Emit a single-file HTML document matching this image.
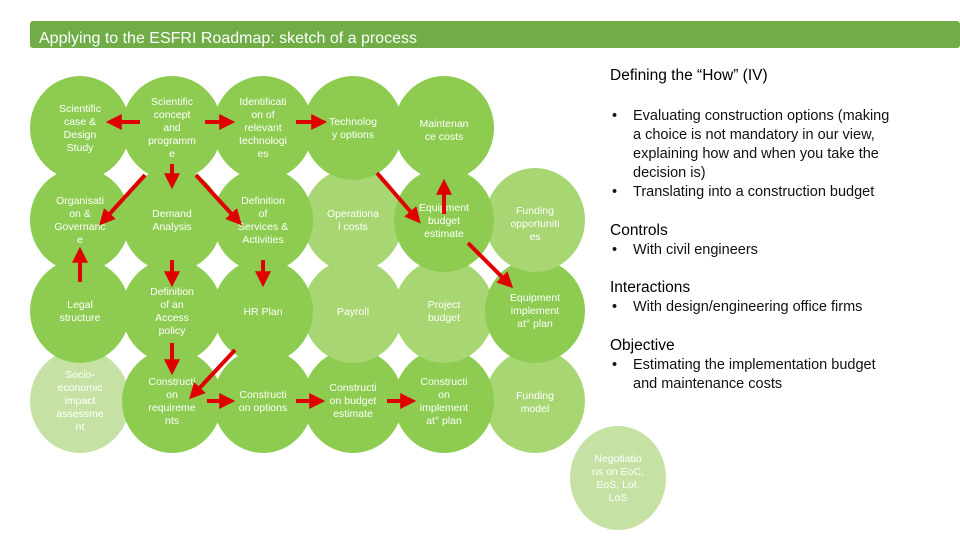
<!DOCTYPE html>
<html><head><meta charset="utf-8"><style>
body{margin:0;background:#fff;}
svg text{font-family:"Liberation Sans",sans-serif;}
.c{fill:#fff;font-size:10.5px;text-anchor:middle;}
.r{font-size:14.5px;fill:#111;}
.h{font-size:15.5px;fill:#000;}
</style></head><body>
<svg width="960" height="540" viewBox="0 0 960 540" xmlns="http://www.w3.org/2000/svg">
<defs><marker id="a" markerWidth="4" markerHeight="4" refX="2.2" refY="2" orient="auto" markerUnits="strokeWidth"><path d="M0,0 L4,2 L0,4 Z" fill="#E00000"/></marker></defs>
<rect x="30" y="21" width="930" height="27" rx="3" fill="#70AD47"/>
<text x="39" y="43" fill="#fff" style="font-size:16px">Applying to the ESFRI Roadmap: sketch of a process</text>
<g>
<!-- row 4 -->
<ellipse cx="80" cy="401" rx="50" ry="52" fill="#C5E2A4"/>
<ellipse cx="535" cy="401" rx="50" ry="52" fill="#A8D672"/>
<ellipse cx="172" cy="401" rx="50" ry="52" fill="#8DCC50"/>
<ellipse cx="263" cy="401" rx="50" ry="52" fill="#8DCC50"/>
<ellipse cx="353" cy="401" rx="50" ry="52" fill="#8DCC50"/>
<ellipse cx="444" cy="401" rx="50" ry="52" fill="#8DCC50"/>
<!-- row 3 -->
<ellipse cx="353" cy="311" rx="50" ry="52" fill="#A8D672"/>
<ellipse cx="444" cy="311" rx="50" ry="52" fill="#A8D672"/>
<ellipse cx="80" cy="311" rx="50" ry="52" fill="#8DCC50"/>
<ellipse cx="172" cy="311" rx="50" ry="52" fill="#8DCC50"/>
<ellipse cx="263" cy="311" rx="50" ry="52" fill="#8DCC50"/>
<ellipse cx="535" cy="311" rx="50" ry="52" fill="#8DCC50"/>
<!-- row 2 -->
<ellipse cx="353" cy="220" rx="50" ry="52" fill="#A8D672"/>
<ellipse cx="535" cy="220" rx="50" ry="52" fill="#A8D672"/>
<ellipse cx="80" cy="220" rx="50" ry="52" fill="#8DCC50"/>
<ellipse cx="172" cy="220" rx="50" ry="52" fill="#8DCC50"/>
<ellipse cx="263" cy="220" rx="50" ry="52" fill="#8DCC50"/>
<ellipse cx="444" cy="220" rx="50" ry="52" fill="#8DCC50"/>
<!-- row 1 -->
<ellipse cx="80" cy="128" rx="50" ry="52" fill="#8DCC50"/>
<ellipse cx="172" cy="128" rx="50" ry="52" fill="#8DCC50"/>
<ellipse cx="263" cy="128" rx="50" ry="52" fill="#8DCC50"/>
<ellipse cx="353" cy="128" rx="50" ry="52" fill="#8DCC50"/>
<ellipse cx="444" cy="128" rx="50" ry="52" fill="#8DCC50"/>
<ellipse cx="618" cy="478" rx="48" ry="52" fill="#C5E2A4"/>
</g>
<g class="c">
<text x="80" y="112">Scientific<tspan x="80" dy="13">case &amp;</tspan><tspan x="80" dy="13">Design</tspan><tspan x="80" dy="13">Study</tspan></text>
<text x="172" y="105">Scientific<tspan x="172" dy="13">concept</tspan><tspan x="172" dy="13">and</tspan><tspan x="172" dy="13">programm</tspan><tspan x="172" dy="13">e</tspan></text>
<text x="263" y="105">Identificati<tspan x="263" dy="13">on of</tspan><tspan x="263" dy="13">relevant</tspan><tspan x="263" dy="13">technologi</tspan><tspan x="263" dy="13">es</tspan></text>
<text x="353" y="125">Technolog<tspan x="353" dy="13">y options</tspan></text>
<text x="444" y="127">Maintenan<tspan x="444" dy="13">ce costs</tspan></text>
<text x="80" y="204">Organisati<tspan x="80" dy="13">on &amp;</tspan><tspan x="80" dy="13">Governanc</tspan><tspan x="80" dy="13">e</tspan></text>
<text x="172" y="217">Demand<tspan x="172" dy="13">Analysis</tspan></text>
<text x="263" y="204">Definition<tspan x="263" dy="13">of</tspan><tspan x="263" dy="13">Services &amp;</tspan><tspan x="263" dy="13">Activities</tspan></text>
<text x="353" y="217">Operationa<tspan x="353" dy="13">l costs</tspan></text>
<text x="444" y="211">Equipment<tspan x="444" dy="13">budget</tspan><tspan x="444" dy="13">estimate</tspan></text>
<text x="535" y="214">Funding<tspan x="535" dy="13">opportuniti</tspan><tspan x="535" dy="13">es</tspan></text>
<text x="80" y="308">Legal<tspan x="80" dy="13">structure</tspan></text>
<text x="172" y="295">Definition<tspan x="172" dy="13">of an</tspan><tspan x="172" dy="13">Access</tspan><tspan x="172" dy="13">policy</tspan></text>
<text x="263" y="315">HR Plan</text>
<text x="353" y="315">Payroll</text>
<text x="444" y="308">Project<tspan x="444" dy="13">budget</tspan></text>
<text x="535" y="301">Equipment<tspan x="535" dy="13">implement</tspan><tspan x="535" dy="13">at° plan</tspan></text>
<text x="80" y="378">Socio-<tspan x="80" dy="13">economic</tspan><tspan x="80" dy="13">impact</tspan><tspan x="80" dy="13">assessme</tspan><tspan x="80" dy="13">nt</tspan></text>
<text x="172" y="385">Constructi<tspan x="172" dy="13">on</tspan><tspan x="172" dy="13">requireme</tspan><tspan x="172" dy="13">nts</tspan></text>
<text x="263" y="398">Constructi<tspan x="263" dy="13">on options</tspan></text>
<text x="353" y="391">Constructi<tspan x="353" dy="13">on budget</tspan><tspan x="353" dy="13">estimate</tspan></text>
<text x="444" y="385">Constructi<tspan x="444" dy="13">on</tspan><tspan x="444" dy="13">implement</tspan><tspan x="444" dy="13">at° plan</tspan></text>
<text x="535" y="399">Funding<tspan x="535" dy="13">model</tspan></text>
<text x="618" y="462">Negotiatio<tspan x="618" dy="13">ns on EoC,</tspan><tspan x="618" dy="13">EoS, LoI,</tspan><tspan x="618" dy="13">LoS</tspan></text>
</g>
<g stroke="#E00000" stroke-width="4" fill="none" marker-end="url(#a)">
<line x1="140" y1="122" x2="113" y2="122"/>
<line x1="205" y1="122" x2="228" y2="122"/>
<line x1="296" y1="122" x2="320" y2="122"/>
<line x1="172" y1="164" x2="172" y2="182"/>
<line x1="145" y1="175" x2="104" y2="220"/>
<line x1="196" y1="175" x2="237" y2="220"/>
<line x1="377" y1="173" x2="416" y2="218"/>
<line x1="444" y1="214" x2="444" y2="186"/>
<line x1="80" y1="282" x2="80" y2="254"/>
<line x1="172" y1="260" x2="172" y2="280"/>
<line x1="263" y1="260" x2="263" y2="280"/>
<line x1="468" y1="243" x2="508" y2="283"/>
<line x1="172" y1="343" x2="172" y2="368"/>
<line x1="235" y1="350" x2="194" y2="394"/>
<line x1="207" y1="422" x2="228" y2="422" transform="translate(0,-21)"/>
<line x1="296" y1="401" x2="318" y2="401"/>
<line x1="387" y1="401" x2="409" y2="401"/>
</g>
<text class="h" x="610" y="80">Defining the “How” (IV)</text>
<g class="r">
<text x="612" y="120">•</text><text x="633" y="120">Evaluating construction options (making</text>
<text x="633" y="139">a choice is not mandatory in our view,</text>
<text x="633" y="158">explaining how and when you take the</text>
<text x="633" y="177">decision is)</text>
<text x="612" y="196">•</text><text x="633" y="196">Translating into a construction budget</text>
<text class="h" x="610" y="235">Controls</text>
<text x="612" y="254">•</text><text x="633" y="254">With civil engineers</text>
<text class="h" x="610" y="292">Interactions</text>
<text x="612" y="311">•</text><text x="633" y="311">With design/engineering office firms</text>
<text class="h" x="610" y="350">Objective</text>
<text x="612" y="369">•</text><text x="633" y="369">Estimating the implementation budget</text>
<text x="633" y="388">and maintenance costs</text>
</g>
</svg>
</body></html>
